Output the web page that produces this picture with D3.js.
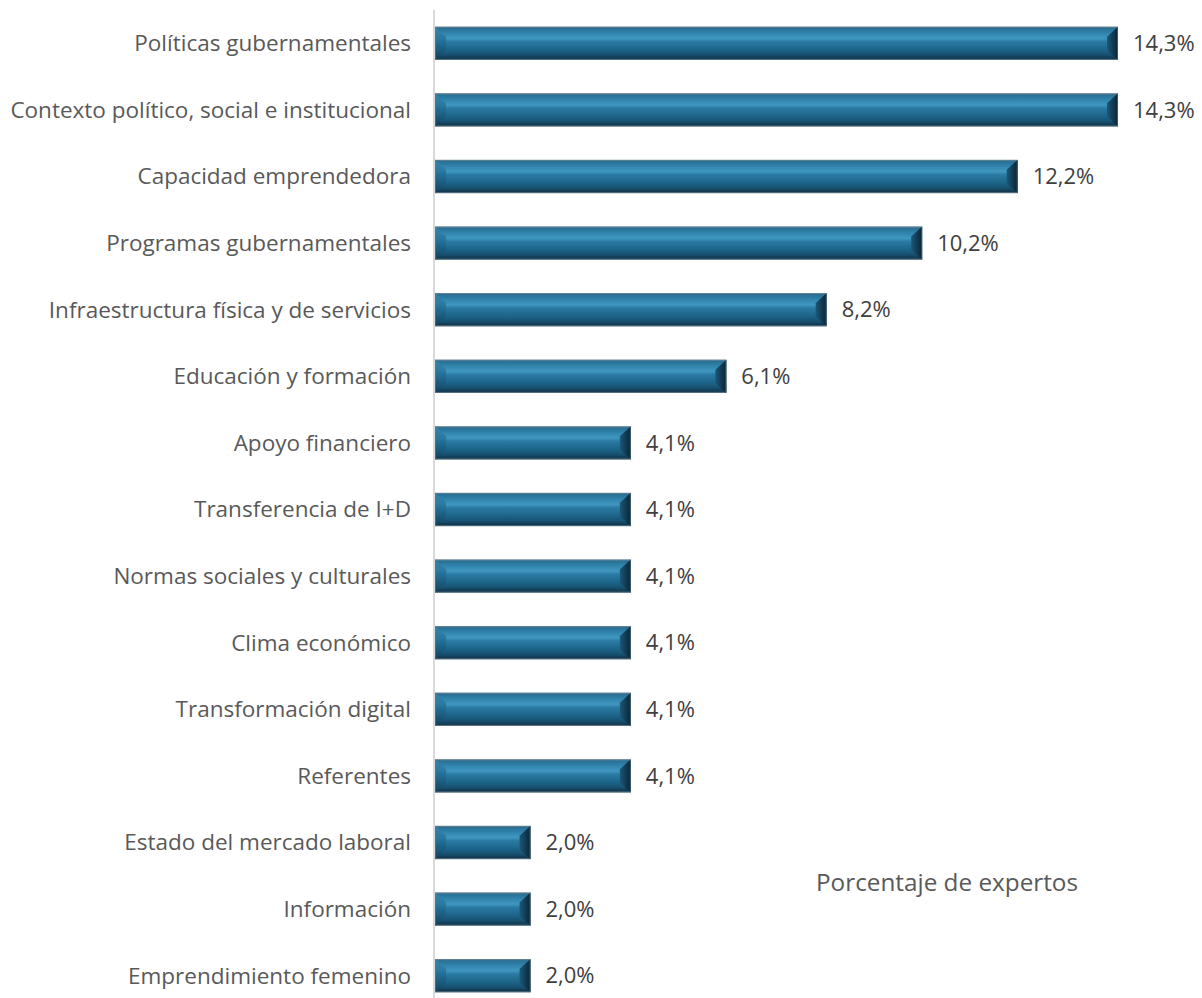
<!DOCTYPE html>
<html><head><meta charset="utf-8">
<script src="https://cdn.jsdelivr.net/npm/d3@7"></script>
<style>body{margin:0;background:#fff}svg{display:block}</style>
</head><body>
<svg id="c" width="1202" height="998"></svg>
<script>
const categories = ["Políticas gubernamentales","Contexto político, social e institucional","Capacidad emprendedora","Programas gubernamentales","Infraestructura física y de servicios","Educación y formación","Apoyo financiero","Transferencia de I+D","Normas sociales y culturales","Clima económico","Transformación digital","Referentes","Estado del mercado laboral","Información","Emprendimiento femenino"];
const values = [14.3,14.3,12.2,10.2,8.2,6.1,4.1,4.1,4.1,4.1,4.1,4.1,2.0,2.0,2.0];
const valueLabels = ["14,3%","14,3%","12,2%","10,2%","8,2%","6,1%","4,1%","4,1%","4,1%","4,1%","4,1%","4,1%","2,0%","2,0%","2,0%"];
const axisTitle = "Porcentaje de expertos";

const FONT = "'Open Sans', sans-serif";
const svg = d3.select("#c");
const x = d3.scaleLinear().domain([0, 14.3]).range([435, 1118]);
const y = d3.scaleBand().domain(categories).range([10, 1009]).paddingInner(0.5).paddingOuter(0.25);

const defs = svg.append("defs");
const g1 = defs.append("linearGradient").attr("id","body").attr("x1",0).attr("y1",0).attr("x2",0).attr("y2",1);
[[0,"#6f8e9e"],[0.05,"#2a6f94"],[0.18,"#2f82ab"],[0.35,"#3f97c0"],[0.45,"#2a7aa3"],[0.7,"#1c6388"],[0.85,"#17506f"],[0.95,"#12384f"],[1,"#4d6878"]].forEach(s=>g1.append("stop").attr("offset",s[0]).attr("stop-color",s[1]));
const gl = defs.append("linearGradient").attr("id","left").attr("x1",0).attr("y1",0).attr("x2",0).attr("y2",1);
[[0,"#3a88b0"],[0.5,"#1f6a91"],[1,"#13405a"]].forEach(s=>gl.append("stop").attr("offset",s[0]).attr("stop-color",s[1]));
const gr = defs.append("linearGradient").attr("id","right").attr("x1",0).attr("y1",0).attr("x2",1).attr("y2",0);
[[0,"#1a5878"],[0.6,"#12384f"],[1,"#0b2433"]].forEach(s=>gr.append("stop").attr("offset",s[0]).attr("stop-color",s[1]));

svg.append("line").attr("x1",434).attr("x2",434).attr("y1",10).attr("y2",998)
  .attr("stroke","#d9d9d9").attr("stroke-width",2);

const bw = y.bandwidth();
const bars = svg.selectAll("g.bar").data(categories).join("g").attr("class","bar");
bars.append("rect")
  .attr("x", x(0)).attr("y", d=>y(d))
  .attr("width", (d,i)=>x(values[i])-x(0)).attr("height", bw)
  .attr("fill","url(#body)");
const b = 11, v = 10;
bars.append("path").attr("fill","url(#left)").attr("d",(d,i)=>{
  const x0=x(0), y0=y(d), y1=y0+bw;
  return `M${x0},${y0}L${x0+b},${y0+v}L${x0+b},${y1-v}L${x0},${y1}Z`;
}).attr("opacity",0.85);
bars.append("path").attr("fill","url(#right)").attr("d",(d,i)=>{
  const x1=x(values[i]), y0=y(d), y1=y0+bw;
  return `M${x1},${y0}L${x1-b},${y0+v}L${x1-b},${y1-v}L${x1},${y1}Z`;
});
bars.append("rect")
  .attr("x", x(0)+0.5).attr("y", d=>y(d)+0.5)
  .attr("width", (d,i)=>x(values[i])-x(0)-1).attr("height", bw-1)
  .attr("fill","none").attr("stroke","#5d7a8a").attr("stroke-width",1).attr("opacity",0.6);

svg.selectAll("text.cat").data(categories).join("text").attr("class","cat")
  .attr("x", 411).attr("y", d=>y(d)+bw/2).attr("dy","0.35em")
  .attr("text-anchor","end").attr("font-family",FONT)
  .attr("font-size",22.5).attr("fill","#595959").text(d=>d);

svg.selectAll("text.val").data(categories).join("text").attr("class","val")
  .attr("x", (d,i)=>x(values[i])+15).attr("y", d=>y(d)+bw/2).attr("dy","0.35em")
  .attr("font-family",FONT)
  .attr("font-size",22).attr("fill","#404040").text((d,i)=>valueLabels[i]);

svg.append("text").attr("x",816).attr("y",891)
  .attr("font-family",FONT).attr("font-size",24.3)
  .attr("fill","#595959").text(axisTitle);
</script>
</body></html>
